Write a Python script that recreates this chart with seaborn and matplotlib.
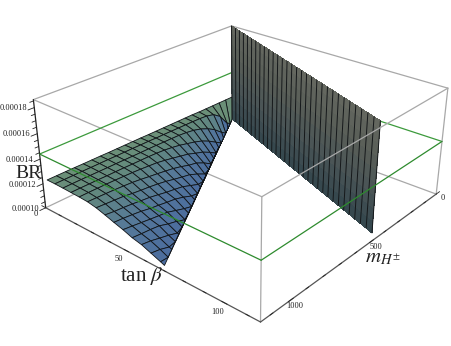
import numpy as np
import matplotlib
matplotlib.use('Agg')
import matplotlib.pyplot as plt
import seaborn as sns

sns.set_theme(style='white')
plt.rcParams['font.family'] = ['Liberation Serif', 'DejaVu Serif']
plt.rcParams['mathtext.fontset'] = 'stix'

# axes ranges
m_max = 1150
tb_max = 115
z_min = 100
z_max = 186
green_level = 144

m_values = [0, 47, 94, 141, 188, 235, 282, 329, 376, 423, 470, 517, 564,
            611, 658, 705, 752, 799, 846, 893, 940, 987, 1034, 1081, 1128]
tb_values = [0, 5, 10, 15, 20, 25, 30, 35, 40, 45, 50, 55, 60, 65, 70]
# edge of the surface and of the wall, tan beta per unit of mass
surface_edge = 0.0594
wall_edge = 0.257

# BR in units of 1e-6, rows are tan beta, columns are m_H
br_table = [
    [121, 121.2, 121.4, 121.6, 121.8, 122, 122.3, 122.5, 122.7, 122.9, 123.1, 123.3, 123.5, 123.7, 123.9, 124.1, 124.3, 124.5, 124.8, 125, 125.2, 125.4, 125.6, 125.8, 126],
    [100, 100.2, 105.1, 114.3, 119.1, 120.9, 121.5, 121.9, 122.2, 122.5, 122.8, 123.1, 123.3, 123.6, 123.8, 124.1, 124.3, 124.5, 124.8, 125, 125.2, 125.4, 125.6, 125.8, 126],
    [100, 100.2, 100.4, 100.6, 105.5, 111.1, 115, 118, 120, 121.2, 122, 122.4, 122.7, 123, 123.3, 123.5, 123.8, 124.1, 124.4, 124.6, 124.9, 125.1, 125.4, 125.6, 125.8],
    [100, 100.2, 100.4, 100.6, 100.8, 101, 105.5, 109.8, 113.2, 115.6, 117.5, 119.4, 120.8, 121.8, 122.5, 123, 123.3, 123.6, 124, 124.3, 124.5, 124.8, 125, 125.3, 125.5],
    [100, 100.2, 100.4, 100.6, 100.8, 101, 101.3, 101.5, 105.9, 109.5, 111.9, 114.5, 116.2, 117.8, 119.4, 120.8, 121.6, 122.4, 123.1, 123.6, 124.1, 124.4, 124.7, 125, 125.2],
    [100, 100.2, 100.4, 100.6, 100.8, 101, 101.3, 101.5, 101.7, 102, 106.3, 109.7, 111.3, 113.5, 115.4, 116.8, 118.1, 119.3, 120.6, 121.7, 122.5, 123.1, 123.7, 124.2, 124.7],
    [100, 100.2, 100.4, 100.6, 100.8, 101, 101.3, 101.5, 101.7, 101.9, 102.1, 103.1, 106.7, 109.6, 111.2, 112.9, 114.8, 116.3, 117.5, 118.5, 119.6, 120.9, 121.7, 122.5, 123.3],
    [100, 100.2, 100.4, 100.6, 100.8, 101, 101.3, 101.5, 101.7, 101.9, 102.1, 102.3, 102.5, 104.4, 107.1, 109.8, 111.3, 112.6, 114.3, 115.9, 117, 118.1, 119.1, 119.9, 121.1],
    [100, 100.2, 100.4, 100.6, 100.8, 101, 101.3, 101.5, 101.7, 101.9, 102.1, 102.3, 102.5, 102.7, 102.9, 105.2, 108, 110.2, 111.4, 112.8, 114, 115.6, 116.8, 117.9, 118.7],
    [100, 100.2, 100.4, 100.6, 100.8, 101, 101.3, 101.5, 101.7, 101.9, 102.1, 102.3, 102.5, 102.7, 102.9, 103.1, 103.3, 105.6, 108, 110.5, 111.6, 112.7, 114, 115.3, 116.5],
    [100, 100.2, 100.4, 100.6, 100.8, 101, 101.3, 101.5, 101.7, 101.9, 102.1, 102.3, 102.5, 102.7, 102.9, 103.1, 103.3, 103.5, 103.8, 106.5, 108.4, 110.9, 112, 112.8, 113.8],
    [100, 100.2, 100.4, 100.6, 100.8, 101, 101.3, 101.5, 101.7, 101.9, 102.1, 102.3, 102.5, 102.7, 102.9, 103.1, 103.3, 103.5, 103.8, 104, 104.6, 106.9, 108.8, 110.8, 112.1],
    [100, 100.2, 100.4, 100.6, 100.8, 101, 101.3, 101.5, 101.7, 101.9, 102.1, 102.3, 102.5, 102.7, 102.9, 103.1, 103.3, 103.5, 103.8, 104, 104.2, 104.4, 105.4, 107.8, 109.2],
    [100, 100.2, 100.4, 100.6, 100.8, 101, 101.3, 101.5, 101.7, 101.9, 102.1, 102.3, 102.5, 102.7, 102.9, 103.1, 103.3, 103.5, 103.8, 104, 104.2, 104.4, 104.6, 104.8, 106.3],
    [100, 100.2, 100.4, 100.6, 100.8, 101, 101.3, 101.5, 101.7, 101.9, 102.1, 102.3, 102.5, 102.7, 102.9, 103.1, 103.3, 103.5, 103.8, 104, 104.2, 104.4, 104.6, 104.8, 105],
]
# the table came out a little high towards large m_H, taken off per column
column_drop = [0, 0.2, 0.4, 0.6, 0.8, 1, 1.1, 1.3, 1.5, 1.7, 1.9, 2.1, 2.3,
               2.4, 2.6, 2.8, 3, 3.2, 3.4, 3.6, 3.8, 3.9, 4.1, 4.3, 4.5]

wall_m = [0, 14.5, 29, 43.5, 58, 72.5, 87, 101.5, 116, 130.5, 145, 159.5, 174, 188.5, 203, 217.5,
          232, 246.5, 261, 275.5, 290, 304.5, 319, 333.5, 348, 362.5, 377, 391.5, 406, 420.5, 435]
wall_z = [100, 110, 120, 130, 140, 150, 160, 170, 180, 186]

z_ticks = [100, 120, 140, 160, 180]
z_labels = ['0.00010', '0.00012', '0.00014', '0.00016', '0.00018']
tb_ticks = [0, 50, 100]
m_ticks = [0, 500, 1000]

fig = plt.figure(figsize=(4.51, 3.46), dpi=100)
# square axes wider than tall figure, so nothing gets clipped at the sides
ax = fig.add_axes([12 / 451, (-105 / 2 + 18) / 346, 1, 451 / 346], projection='3d', computed_zorder=False)
ax.set_proj_type('persp', focal_length=0.37)
ax.view_init(elev=26.7, azim=41)
ax.set_box_aspect((1.0, 1.0, 0.42), zoom=0.905)
ax.set_xlim(0, m_max)
ax.set_ylim(0, tb_max)
ax.set_zlim(z_min, z_max)
ax.set_axis_off()
fig.patch.set_facecolor('white')


def edge(p, q, color='#a8a8a8', lw=0.9, z=1):
    ax.plot([p[0], q[0]], [p[1], q[1]], [p[2], q[2]], color=color, lw=lw, zorder=z, solid_capstyle='round')


# back of the box and everything the surfaces hide
edge((0, 0, z_min), (m_max, 0, z_min), z=1)
edge((0, 0, z_min), (0, tb_max, z_min), z=1)
edge((0, 0, z_max), (m_max, 0, z_max), z=1)
edge((0, 0, z_max), (0, tb_max, z_max), z=1)
edge((m_max, 0, z_max), (m_max, tb_max, z_max), z=1)
edge((0, 0, z_min), (0, 0, z_max), z=1)
edge((0, 0, green_level), (0, tb_max, green_level), color='#3c9a3c', z=2)
edge((0, 0, green_level), (m_max, 0, green_level), color='#3c9a3c', z=2)

# surface, clipped on its diagonal edge
M, T = np.meshgrid(m_values, tb_values)
T = np.minimum(T, surface_edge * M)
Z = np.array(br_table, dtype=float) - np.array(column_drop)
frac = np.divide(T, surface_edge * M, out=np.zeros_like(T, dtype=float), where=M > 0)
surface_cmap = sns.blend_palette(['#6b8f78', '#62887f', '#55789a', '#4b6c9e'], as_cmap=True)
ax.plot_surface(M, T, Z, facecolors=surface_cmap(frac), shade=False, rstride=1, cstride=1,
                edgecolor='#101418', linewidth=0.6, antialiased=True, zorder=3)

# steep wall
wall_cmap = sns.blend_palette(['#36484e', '#4a5556', '#5a5f58', '#666961'], as_cmap=True)
WM, WZ = np.meshgrid(wall_m, wall_z)
WT = wall_edge * WM
ax.plot_surface(WM, WT, WZ, facecolors=wall_cmap((WZ - z_min) / (z_max - z_min)), shade=False,
                rstride=1, cstride=1, linewidth=0, antialiased=False, zorder=4)
for m in wall_m:
    ax.plot([m, m], [wall_edge * m] * 2, [z_min, z_max], color='#15181a', lw=0.7, zorder=5)

# front of the box
edge((m_max, tb_max, z_max), (0, tb_max, z_max), z=6)
edge((m_max, tb_max, z_min), (m_max, tb_max, z_max), z=6)
edge((0, tb_max, z_min), (0, tb_max, z_max), z=6)
edge((m_max, 0, z_min), (m_max, 0, z_max), color='#222222', z=6)
edge((m_max, 0, z_min), (m_max, tb_max, z_min), color='#555555', z=6)
edge((m_max, tb_max, z_min), (0, tb_max, z_min), color='#555555', z=6)

# green plane, front edges
edge((m_max, 0, green_level), (m_max, tb_max, green_level), color='#2e8b2e', z=7)
edge((m_max, tb_max, green_level), (0, tb_max, green_level), color='#2e8b2e', z=7)

# tick marks and labels
for z_val in range(100, 186, 5):
    size = 30 if z_val in z_ticks else 18
    edge((m_max, 0, z_val), (m_max + size, 0, z_val), color='#222222', lw=0.6, z=8)
for tb in range(0, 111, 10):
    size = 2.6 if tb in tb_ticks else 1.5
    edge((m_max, tb, z_min), (m_max, tb - size, z_min), color='#222222', lw=0.6, z=8)
for m in range(0, 1150, 100):
    size = 28 if m in m_ticks else 16
    edge((m, tb_max, z_min), (m - size, tb_max, z_min), color='#222222', lw=0.6, z=8)

for val, lab in zip(z_ticks, z_labels):
    ax.text(m_max + 22, -1.5, val, lab, fontsize=6, ha='right', va='center', color='#222222', zorder=9)
for tb in tb_ticks:
    ax.text(m_max + 50, tb, z_min - 1, str(tb), fontsize=6, ha='center', va='center', color='#222222', zorder=9)
for m in m_ticks:
    ax.text(m, tb_max + 3, z_min - 1, str(m), fontsize=6, ha='center', va='center', color='#222222', zorder=9)

# axis labels
ax.text2D(28 / 451, 1 - 174 / 346, 'BR', transform=fig.transFigure, fontsize=14, ha='center', va='center', color='#222222', zorder=10)
ax.text2D(142 / 451, 1 - 276 / 346, r'tan $\beta$', transform=fig.transFigure, fontsize=15, ha='center', va='center', color='#222222', zorder=10)
ax.text2D(383 / 451, 1 - 258 / 346, r'$m_{H^{\pm}}$', transform=fig.transFigure, fontsize=15, ha='center', va='center', color='#222222', zorder=10)

fig.savefig('out.png', dpi=100, facecolor='white')
